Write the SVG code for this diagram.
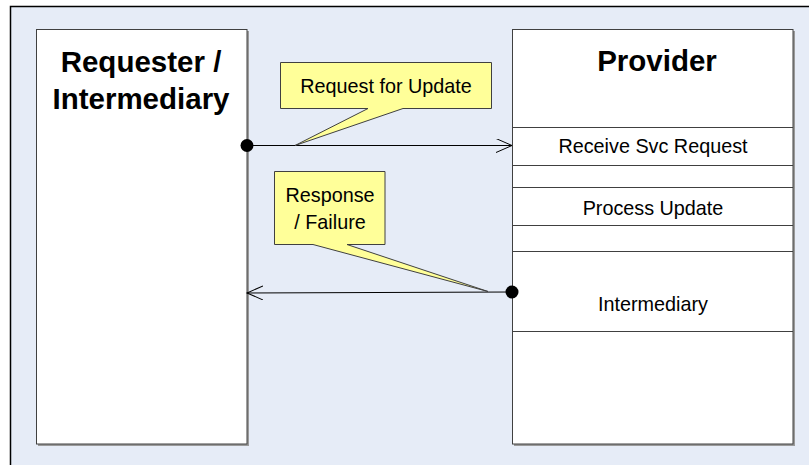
<svg xmlns="http://www.w3.org/2000/svg" width="809" height="465" viewBox="0 0 809 465">
<defs>
<style>
.box{fill:#ffffff;stroke:#404040;stroke-width:1}
.shadow{fill:#9a9a9a}
.row{stroke:#404040;stroke-width:1;fill:none}
.title{font-family:"Liberation Sans",Arial,sans-serif;font-weight:bold;font-size:29.5px;fill:#000;text-anchor:middle}
.lbl{font-family:"Liberation Sans",Arial,sans-serif;font-size:19.8px;fill:#000;text-anchor:middle}
.call{fill:#ffff99;stroke:#404040;stroke-width:1}
.conn{stroke:#000;stroke-width:1;fill:none}
</style>
<marker id="open" markerWidth="18" markerHeight="16" refX="16" refY="7" orient="auto" markerUnits="userSpaceOnUse">
<path d="M0,0 L16,7 L0,14" fill="none" stroke="#000" stroke-width="1"/>
</marker>
</defs>
<rect x="0" y="0" width="809" height="465" fill="#ffffff"/>
<rect x="10.5" y="6.5" width="800" height="470" fill="#e6ecf7" stroke="#000" stroke-width="1.5"/>
<g id="requester">
<rect class="shadow" x="38" y="31" width="211" height="415"/>
<rect class="box" x="36.5" y="29.5" width="210.5" height="414.5"/>
<text class="title" x="141" y="72">Requester /</text>
<text class="title" x="141" y="109">Intermediary</text>
</g>
<g id="provider">
<rect class="shadow" x="514" y="31" width="281" height="415"/>
<rect class="box" x="512.5" y="29.5" width="280.5" height="414.5"/>
<text class="title" x="657" y="71">Provider</text>
<line class="row" x1="512.5" y1="127.5" x2="793" y2="127.5"/>
<line class="row" x1="512.5" y1="165.5" x2="793" y2="165.5"/>
<line class="row" x1="512.5" y1="187.5" x2="793" y2="187.5"/>
<line class="row" x1="512.5" y1="225.5" x2="793" y2="225.5"/>
<line class="row" x1="512.5" y1="251.5" x2="793" y2="251.5"/>
<line class="row" x1="512.5" y1="331.5" x2="793" y2="331.5"/>
<text class="lbl" x="653" y="153">Receive Svc Request</text>
<text class="lbl" x="653" y="215">Process Update</text>
<text class="lbl" x="653" y="311">Intermediary</text>
</g>
<g id="connectors">
<line class="conn" x1="247" y1="145.5" x2="512" y2="145.5" marker-end="url(#open)"/>
<circle cx="247" cy="145.5" r="6.5" fill="#000"/>
<line class="conn" x1="512" y1="292" x2="247" y2="293" marker-end="url(#open)"/>
<circle cx="512" cy="292" r="6.5" fill="#000"/>
</g>
<g id="callout-request">
<path class="call" d="M280.5,62.5 H491.5 V108.5 H403 L295,145.5 L368,108.5 H280.5 Z"/>
<text class="lbl" x="386" y="93">Request for Update</text>
</g>
<g id="callout-response">
<path class="call" d="M274.5,171.5 H385 V244.5 H347 L488,291.5 L313,244.5 H274.5 Z"/>
<text class="lbl" x="330" y="202">Response</text>
<text class="lbl" x="330" y="229">/ Failure</text>
</g>
</svg>
